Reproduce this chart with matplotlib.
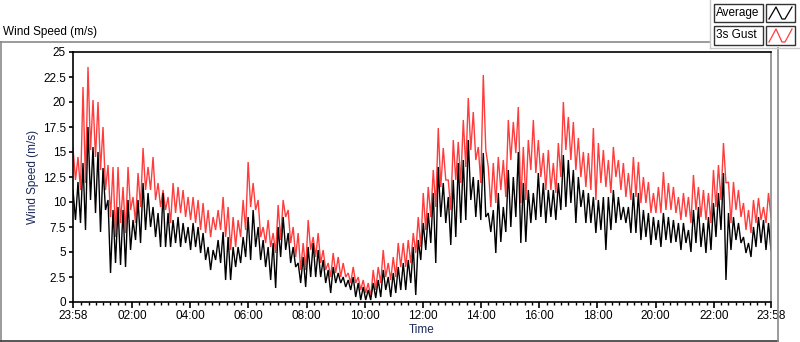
import numpy as np
import matplotlib
matplotlib.use("Agg")
import matplotlib.pyplot as plt
from matplotlib.patches import Rectangle
from matplotlib.lines import Line2D

# ---- data: per ~10-minute bin, high / low of each series (m/s) ----
gust_hi = [15.4, 14.5, 21.5, 23.5, 20.2, 20.0, 17.5, 13.7, 13.5, 13.5,
           11.5, 13.5, 10.5, 12.9, 15.4, 13.5, 14.5, 11.9, 11.2, 10.5,
           11.9, 11.5, 11.2, 10.5, 10.5, 10.2, 9.9, 9.2, 8.5, 9.2,
           10.5, 9.5, 8.5, 8.2, 10.2, 14.0, 11.9, 10.2, 7.5, 8.2,
           6.9, 9.7, 10.2, 9.2, 7.5, 6.9, 5.9, 8.2, 6.5, 6.9,
           5.2, 3.9, 4.9, 4.5, 3.9, 2.9, 3.5, 2.5, 2.2, 1.9,
           3.2, 3.5, 5.2, 3.9, 4.5, 5.9, 5.9, 6.2, 6.9, 8.5,
           10.9, 11.5, 13.2, 17.4, 15.4, 12.2, 16.2, 16.0, 18.2, 20.4,
           19.0, 15.5, 22.7, 13.5, 13.9, 14.5, 14.2, 18.2, 18.0, 19.5,
           15.5, 16.2, 18.2, 16.2, 14.9, 15.2, 13.9, 15.9, 20.0, 18.5,
           18.0, 16.4, 15.0, 14.9, 17.4, 15.9, 15.2, 14.2, 15.5, 14.2,
           13.9, 12.9, 14.5, 14.0, 12.5, 12.0, 10.9, 11.5, 13.0, 11.9,
           11.5, 10.5, 10.9, 10.5, 12.7, 11.5, 11.2, 10.9, 13.2, 13.7,
           15.9, 12.0, 12.0, 11.2, 9.9, 9.2, 10.2, 10.4, 9.5, 10.9]
gust_lo = [12.2, 11.2, 11.9, 15.2, 14.5, 13.2, 11.2, 8.5, 6.5, 7.9,
           6.9, 9.2, 7.9, 9.5, 11.2, 11.2, 10.2, 9.5, 9.2, 7.9,
           8.9, 8.9, 8.5, 8.2, 7.9, 7.2, 6.9, 6.5, 7.2, 7.2,
           6.5, 5.2, 5.5, 6.5, 7.2, 9.5, 9.2, 6.5, 5.9, 5.5,
           4.9, 6.2, 8.5, 5.9, 4.5, 3.2, 3.2, 5.2, 4.5, 3.9,
           3.2, 2.5, 2.9, 2.5, 2.5, 1.9, 1.9, 1.2, 0.9, 0.5,
           1.2, 1.9, 2.5, 2.2, 2.5, 3.5, 3.5, 3.9, 4.9, 5.5,
           7.2, 8.5, 9.5, 11.5, 12.2, 9.2, 12.2, 11.9, 13.5, 15.2,
           14.2, 11.9, 15.2, 9.5, 9.9, 11.2, 10.5, 14.2, 14.9, 9.9,
           10.2, 13.2, 12.9, 12.5, 11.2, 11.2, 10.9, 12.5, 15.2, 14.2,
           13.2, 12.5, 11.5, 11.2, 10.2, 11.9, 11.5, 10.9, 12.5, 11.2,
           10.5, 10.2, 10.5, 9.9, 9.9, 8.9, 8.9, 8.9, 9.2, 9.2,
           8.9, 8.2, 8.5, 7.9, 9.2, 8.5, 8.2, 7.9, 9.5, 10.2,
           11.9, 7.9, 9.2, 8.5, 7.2, 6.9, 7.9, 8.2, 7.9, 8.5]
avg_hi = [11.2, 12.0, 13.9, 17.5, 15.5, 15.0, 13.4, 10.2, 9.2, 9.5,
          9.2, 10.2, 8.2, 10.2, 11.9, 10.9, 9.5, 8.9, 10.9, 8.9,
          8.2, 8.5, 7.9, 7.5, 7.9, 7.5, 6.9, 5.5, 5.2, 6.2,
          7.0, 6.5, 5.5, 5.5, 6.5, 8.5, 9.2, 7.5, 6.2, 5.5,
          5.9, 7.5, 8.5, 6.9, 5.5, 3.9, 4.5, 5.5, 5.9, 5.2,
          4.2, 3.2, 3.5, 2.9, 2.5, 2.2, 2.5, 1.9, 1.5, 1.2,
          1.9, 2.2, 3.2, 2.5, 2.9, 3.5, 3.9, 4.2, 5.5, 6.2,
          7.9, 8.9, 10.9, 13.5, 11.9, 10.5, 12.2, 13.9, 14.2, 16.2,
          12.5, 12.2, 14.9, 8.9, 9.2, 10.9, 9.5, 13.2, 12.5, 15.0,
          11.9, 11.2, 10.9, 12.9, 11.9, 11.2, 11.2, 11.9, 14.7, 14.2,
          13.2, 12.5, 11.2, 10.9, 10.5, 10.2, 10.5, 10.5, 11.2, 10.5,
          9.5, 9.5, 10.9, 10.9, 9.2, 8.9, 8.5, 8.2, 8.9, 8.5,
          8.2, 7.9, 7.9, 7.2, 9.2, 9.5, 7.9, 8.5, 9.9, 10.9,
          12.9, 8.9, 8.5, 7.9, 6.5, 5.9, 7.5, 8.5, 8.2, 7.9]
avg_lo = [8.2, 7.9, 7.2, 10.2, 8.9, 7.0, 9.2, 2.9, 3.9, 3.7,
          3.5, 5.2, 6.2, 5.9, 7.2, 7.5, 6.5, 5.5, 5.5, 5.5,
          5.9, 5.5, 5.9, 5.2, 5.5, 4.9, 4.2, 3.2, 4.2, 3.9,
          2.2, 2.2, 3.5, 3.9, 4.5, 4.2, 5.5, 4.2, 3.5, 2.2,
          1.4, 4.5, 5.2, 3.9, 3.5, 1.9, 1.5, 2.5, 2.5, 2.5,
          1.9, 0.9, 1.9, 1.9, 1.5, 1.2, 0.5, 0.2, 0.2, 0.2,
          0.4, 0.5, 1.2, 0.5, 0.9, 1.2, 1.2, 1.9, 0.7, 4.2,
          5.2, 5.9, 3.9, 8.5, 7.9, 5.7, 6.5, 7.9, 8.2, 10.2,
          8.5, 8.2, 8.5, 7.0, 4.9, 6.0, 7.0, 7.5, 8.5, 5.9,
          6.0, 7.9, 8.2, 8.5, 7.9, 8.5, 8.2, 9.2, 9.5, 9.9,
          7.9, 9.5, 7.9, 7.9, 6.9, 7.2, 5.2, 7.2, 7.9, 8.2,
          7.9, 6.9, 6.9, 6.2, 6.5, 5.7, 6.2, 5.5, 6.2, 5.9,
          6.0, 5.2, 5.9, 5.0, 5.9, 5.5, 4.9, 5.2, 6.5, 7.2,
          2.2, 5.2, 6.2, 5.9, 4.9, 4.5, 5.5, 5.9, 5.2, 5.2]
tick_labels = ["23:58", "02:00", "04:00", "06:00", "08:00", "10:00", "12:00",
               "14:00", "16:00", "18:00", "20:00", "22:00", "23:58"]
series_names = ["Average", "3s Gust"]

# ---- geometry helpers ----
W, H = 800, 342
fig = plt.figure(figsize=(W / 100, H / 100), dpi=100)
FONT = ["Liberation Sans Narrow", "Liberation Sans", "DejaVu Sans"]
plt.rcParams["font.family"] = FONT


def fx(x):
    return x / W


def fy(y):
    return 1 - y / H


# plot area in pixels
L, R, T, B = 73, 771, 52, 302
ax = fig.add_axes([fx(L), fy(B), fx(R - L), (B - T) / H])

n = len(gust_hi)
gust = np.column_stack((gust_hi, gust_lo)).ravel()
avg = np.column_stack((avg_hi, avg_lo)).ravel()
t = np.linspace(0, 1440, 2 * n)

ax.plot(t, gust, color="#ff3c3c", lw=1.0, solid_joinstyle="miter")
ax.plot(t, avg, color="#000000", lw=1.0, solid_joinstyle="miter")

ax.set_xlim(0, 1440)
ax.set_ylim(0, 25)

# x ticks: majors at 23:58 and even hours, minors every quarter hour
major = [0] + [122 + 120 * k for k in range(11)] + [1440]
ax.set_xticks(major)
ax.set_xticklabels(tick_labels)
minor = []
for q in range(1, 96):
    m = q * 15 + 2
    if q % 8 != 0:
        minor.append(m)
ax.set_xticks(minor, minor=True)

yt = np.arange(0, 25.01, 2.5)
ax.set_yticks(yt)
ax.set_yticklabels([("%g" % v) for v in yt])

ax.tick_params(axis="both", which="major", direction="out", length=4,
               width=1.2, labelsize=8.5, colors="black", pad=2)
ax.tick_params(axis="x", which="minor", direction="out", length=2.5, width=1)
ax.tick_params(axis="y", which="major", length=3)

for s in ["left", "bottom", "top"]:
    ax.spines[s].set_color("black")
    ax.spines[s].set_linewidth(1.2)
ax.spines["right"].set_color("#8a8a8a")
ax.spines["right"].set_linewidth(1.2)

ax.set_ylabel("Wind Speed (m/s)", fontsize=8.5, color="#1c2a5c", labelpad=3)
ax.set_xlabel("Time", fontsize=8.5, color="#1c2a5c", labelpad=1)

# ---- frame / title / legend (figure level) ----
grey = "#8a8a8a"
fig.add_artist(Line2D([fx(0), fx(710)], [fy(42), fy(42)], color=grey, lw=1.2))
fig.add_artist(Line2D([fx(1), fx(1)], [fy(42), fy(341)], color=grey, lw=1.2))
fig.add_artist(Line2D([fx(0), fx(778)], [fy(341), fy(341)], color="#3a3a3a", lw=1.2))
fig.add_artist(Line2D([fx(778), fx(778)], [fy(48), fy(341)], color=grey, lw=1.2))
fig.add_artist(Line2D([fx(710), fx(710)], [fy(0), fy(48)], color="#c8c8c8", lw=1.0))
fig.add_artist(Line2D([fx(710), fx(800)], [fy(48), fy(48)], color="#c8c8c8", lw=1.0))

fig.text(fx(3), fy(32), "Wind Speed (m/s)", fontsize=8.5, color="black",
         ha="left", va="center")

leg_colors = ["black", "#ff3c3c"]
rows = [(4, 22), (26, 45)]
for (y0, y1), name, c in zip(rows, series_names, leg_colors):
    fig.add_artist(Rectangle((fx(714), fy(y1)), fx(763 - 714), (y1 - y0) / H,
                             facecolor="white", edgecolor="#333333", lw=1.0))
    fig.text(fx(716), fy((y0 + y1) / 2), name, fontsize=8.5, color="black",
             ha="left", va="center")
    fig.add_artist(Rectangle((fx(766), fy(y1)), fx(795 - 766), (y1 - y0) / H,
                             facecolor="white", edgecolor="#333333", lw=1.0))
    xs = [769, 775, 781, 787, 793]
    ys = [y1 - 3, y0 + 3, y1 - 3, y0 + 3, y0 + 3]
    xs = [769, 776, 781, 786, 792]
    ys = [y1 - 3, y0 + 3, y1 - 3, y1 - 3, y0 + 3]
    fig.add_artist(Line2D([fx(v) for v in [769, 776, 782, 785, 792]],
                          [fy(v) for v in [y1 - 3, y0 + 3, y1 - 3, y1 - 3, y0 + 3]],
                          color=c, lw=0.9))

fig.savefig("out.png", dpi=100)
